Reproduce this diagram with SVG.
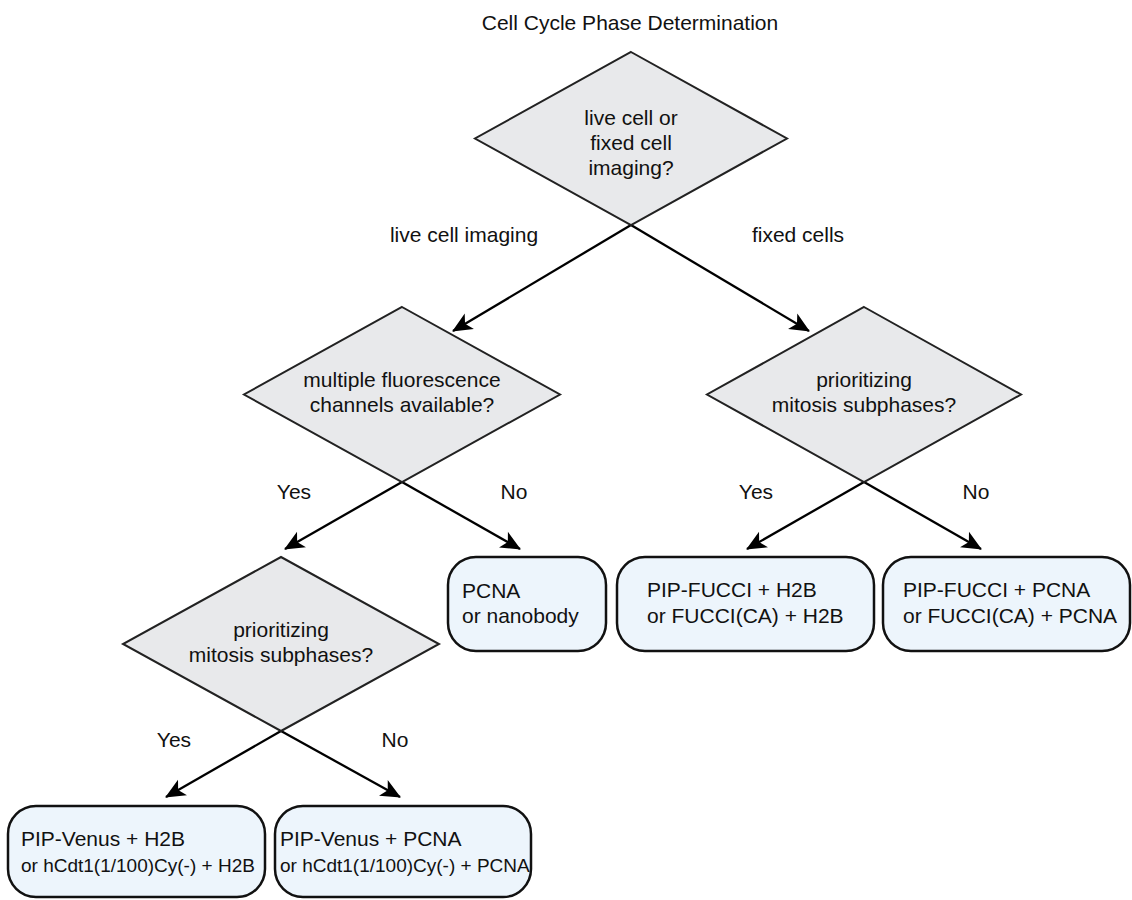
<svg xmlns="http://www.w3.org/2000/svg" width="1132" height="900" viewBox="0 0 1132 900">
<defs>
<style>
text{font-family:"Liberation Sans",Arial,sans-serif;fill:#111;}
.t{font-size:21px;}
.s{font-size:19px;}
.c{text-anchor:middle;}
.dia{fill:#e8e9eb;stroke:#222;stroke-width:2;}
.box{fill:#edf5fc;stroke:#111;stroke-width:2.5;}
.edge{fill:none;stroke:#000;stroke-width:2.3;}
</style>
<marker id="arr" markerUnits="userSpaceOnUse" markerWidth="24" markerHeight="24" refX="0" refY="0" orient="auto" overflow="visible">
<path d="M1,0 L-19,-9 L-14,0 L-19,9 Z" fill="#000"/>
</marker>
</defs>
<rect width="1132" height="900" fill="#fff"/>
<text id="title" class="t c" x="630" y="30">Cell Cycle Phase Determination</text>

<g id="connectors">
<line class="edge" x1="631" y1="225" x2="453" y2="331" marker-end="url(#arr)"/>
<line class="edge" x1="631" y1="225" x2="809" y2="331" marker-end="url(#arr)"/>
<line class="edge" x1="402" y1="482" x2="285" y2="549" marker-end="url(#arr)"/>
<line class="edge" x1="402" y1="482" x2="520" y2="549" marker-end="url(#arr)"/>
<line class="edge" x1="864" y1="482" x2="747" y2="549" marker-end="url(#arr)"/>
<line class="edge" x1="864" y1="482" x2="981" y2="549" marker-end="url(#arr)"/>
<line class="edge" x1="281" y1="731" x2="166" y2="797" marker-end="url(#arr)"/>
<line class="edge" x1="281" y1="731" x2="400" y2="797" marker-end="url(#arr)"/>
<text class="t c" x="464" y="242">live cell imaging</text>
<text class="t c" x="798" y="242">fixed cells</text>
<text class="t c" x="294" y="499">Yes</text>
<text class="t c" x="514" y="499">No</text>
<text class="t c" x="756" y="499">Yes</text>
<text class="t c" x="976" y="499">No</text>
<text class="t c" x="174" y="747">Yes</text>
<text class="t c" x="395" y="747">No</text>
</g>

<g id="d_live_fixed">
<polygon class="dia" points="631,52 787,138.5 631,225 475,138.5"/>
<text class="t c" x="631" y="125">live cell or</text>
<text class="t c" x="631" y="150">fixed cell</text>
<text class="t c" x="631" y="175">imaging?</text>
</g>

<g id="d_multi">
<polygon class="dia" points="402,307 560,394.5 402,482 244,394.5"/>
<text class="t c" x="402" y="387">multiple fluorescence</text>
<text class="t c" x="402" y="412">channels available?</text>
</g>

<g id="d_fixed_mitosis">
<polygon class="dia" points="864,307 1021,394.5 864,482 707,394.5"/>
<text class="t c" x="864" y="387">prioritizing</text>
<text class="t c" x="864" y="412">mitosis subphases?</text>
</g>

<g id="d_live_mitosis">
<polygon class="dia" points="281,557 439,644 281,731 123,644"/>
<text class="t c" x="281" y="637">prioritizing</text>
<text class="t c" x="281" y="662">mitosis subphases?</text>
</g>

<g id="b_pcna">
<rect class="box" x="448" y="557" width="158" height="94" rx="28" ry="28"/>
<text class="t" x="462" y="598">PCNA</text>
<text class="t" x="462" y="623">or nanobody</text>
</g>

<g id="b_fucci_h2b">
<rect class="box" x="617" y="557" width="257" height="94" rx="28" ry="28"/>
<text class="t" x="647" y="597">PIP-FUCCI + H2B</text>
<text class="t" x="647" y="623">or FUCCI(CA) + H2B</text>
</g>

<g id="b_fucci_pcna">
<rect class="box" x="883" y="557" width="247" height="94" rx="28" ry="28"/>
<text class="t" x="903" y="597">PIP-FUCCI + PCNA</text>
<text class="t" x="903" y="623">or FUCCI(CA) + PCNA</text>
</g>

<g id="b_venus_h2b">
<rect class="box" x="8" y="806" width="257" height="91" rx="28" ry="28"/>
<text class="t" x="21" y="846">PIP-Venus + H2B</text>
<text class="s" x="21" y="872">or hCdt1(1/100)Cy(-) + H2B</text>
</g>

<g id="b_venus_pcna">
<rect class="box" x="275" y="806" width="256" height="91" rx="28" ry="28"/>
<text class="t" x="280" y="846">PIP-Venus + PCNA</text>
<text class="s" x="280" y="872">or hCdt1(1/100)Cy(-) + PCNA</text>
</g>
</svg>
